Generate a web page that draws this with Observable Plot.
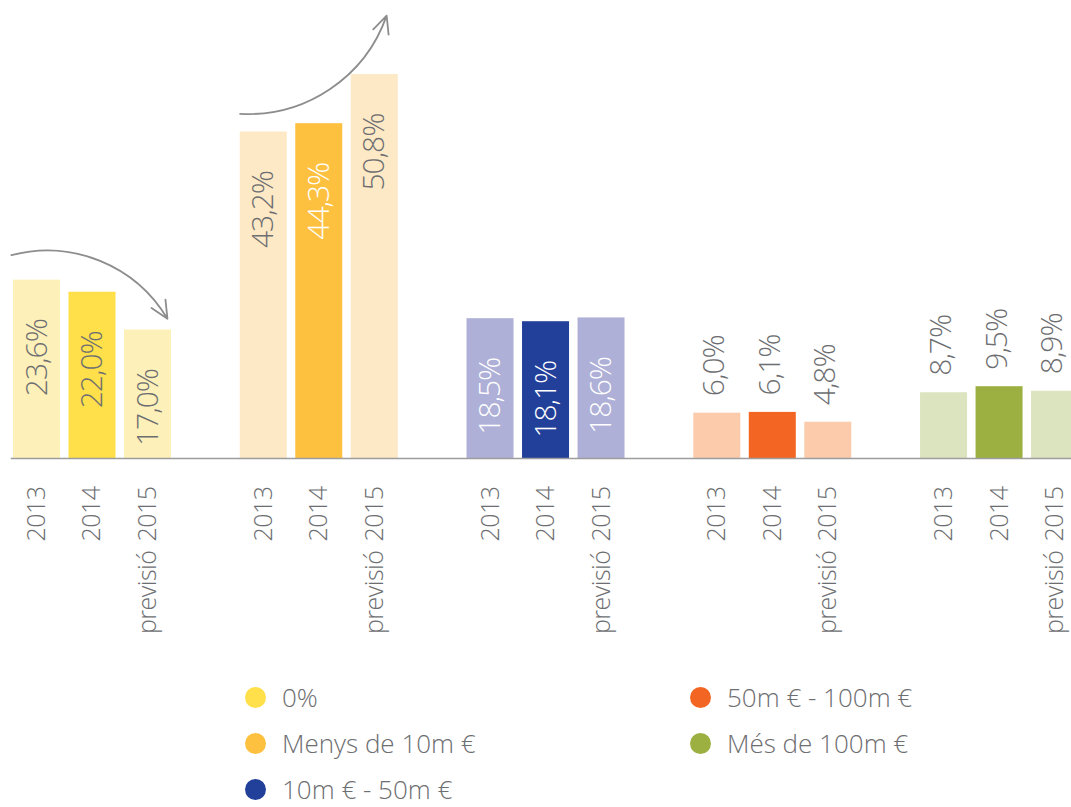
<!DOCTYPE html>
<html>
<head>
<meta charset="utf-8">
<script src="https://cdn.jsdelivr.net/npm/d3@7"></script>
<script src="https://cdn.jsdelivr.net/npm/@observablehq/plot@0.6"></script>
<style>
  html, body { margin: 0; padding: 0; background: #fff; width: 1071px; height: 807px; overflow: hidden; }
  body { font-family: "Open Sans", sans-serif; font-weight: 300; color: #6d6e71; }
  #chart { width: 1071px; overflow: hidden; }
  #chart svg { display: block; max-width: none !important; }
  #legend {
    display: grid;
    grid-template-columns: 445px auto;
    grid-template-rows: repeat(3, 46px);
    grid-auto-flow: column;
    padding-left: 245px;
    padding-top: 4px;
  }
  .item { display: flex; align-items: center; font-size: 26px; line-height: 26px; white-space: nowrap; }
  .dot { width: 21px; height: 21px; border-radius: 50%; margin-right: 16px; flex: none; }
</style>
</head>
<body>
<div id="chart"></div>
<div id="legend"></div>
<script>
// ---- data ----
const groups = ["0%", "Menys de 10m €", "10m € - 50m €", "50m € - 100m €", "Més de 100m €"];
const years = ["2013", "2014", "previsió 2015"];
const v2013 = [23.6, 43.2, 18.5, 6.0, 8.7];
const v2014 = [22.0, 44.3, 18.1, 6.1, 9.5];
const v2015 = [17.0, 50.8, 18.6, 4.8, 8.9];

// trend arrows (data units: bar slot, percentage)
const arrowX1 = [0.04, 4.16];
const arrowY1 = [26.9, 45.6];
const arrowX2 = [2.85, 6.8];
const arrowY2 = [18.5, 58.6];

// ---- layout / styles ----
const groupStep = 4.086;          // distance between groups, in bar slots
const darkColors = ["#ffdf4a", "#fec13f", "#22409a", "#f26522", "#9bb040"];
const lightColors = ["#fef0b9", "#fde9c5", "#aeb0d7", "#fbcbab", "#dce3bf"];
const textGray = "#6d6e71";

// ---- table ----
const series = [v2013, v2014, v2015];
const rows = [];
groups.forEach((g, gi) => years.forEach((yr, yi) => {
  rows.push({
    group: g,
    year: yr,
    value: series[yi][gi],
    slot: gi * groupStep + yi,
    fill: yi === 1 ? darkColors[gi] : lightColors[gi]
  });
}));
const slotEnd = d3.max(rows, d => d.slot) + 1;
const fmt = v => v.toFixed(1).replace(".", ",") + "%";
const labelFill = d => d3.lab(d.fill).l < 85 ? "#ffffff" : textGray;
const inside = rows.filter(d => d.value > 10);
const outside = rows.filter(d => d.value <= 10);
const arrows = arrowX1.map((x, i) => ({x1: x, y1: arrowY1[i], x2: arrowX2[i], y2: arrowY2[i]}));

const chart = Plot.plot({
  width: 1091,
  height: 670,
  marginLeft: 8.75,
  marginRight: 8.7,
  marginTop: 0,
  marginBottom: 212,
  x: {domain: [0, slotEnd], axis: null},
  y: {domain: [0, 60.6], axis: null},
  color: {type: "identity"},
  style: {fontFamily: "'Open Sans', sans-serif", background: "#fff", maxWidth: "none"},
  marks: [
    Plot.rect(rows, {x1: "slot", x2: d => d.slot + 1, y1: 0, y2: "value", fill: "fill", insetLeft: 4.25, insetRight: 4.25}),
    Plot.ruleY([0], {stroke: "#9d9d9d", strokeWidth: 1.6, insetLeft: 2}),
    Plot.text(inside, {x: d => d.slot + 0.5, y: "value", text: d => fmt(d.value), rotate: -90, textAnchor: "end", dy: 39, fontSize: 30, fontWeight: 300, fill: labelFill}),
    Plot.text(outside, {x: d => d.slot + 0.5, y: "value", text: d => fmt(d.value), rotate: -90, textAnchor: "start", dy: -17, dx: -2.5, fontSize: 30, fontWeight: 300, fill: textGray}),
    Plot.text(rows, {x: d => d.slot + 0.5, y: 0, text: "year", rotate: -90, textAnchor: "end", dy: 28, fontSize: 25, fontWeight: 300, fill: textGray}),
    Plot.arrow(arrows.slice(0, 1), {x1: "x1", y1: "y1", x2: "x2", y2: "y2", bend: 37, stroke: "#8d8d8d", strokeWidth: 1.8, headLength: 16, headAngle: 50}),
    Plot.arrow(arrows.slice(1, 2), {x1: "x1", y1: "y1", x2: "x2", y2: "y2", bend: -37, stroke: "#8d8d8d", strokeWidth: 1.8, headLength: 16, headAngle: 50})
  ]
});
chart.querySelectorAll("text").forEach(t => {
  if (t.textContent.includes("%")) {
    t.style.letterSpacing = "-1px";
  } else {
    t.style.letterSpacing = "-0.5px";
    t.style.wordSpacing = "3px";
  }
});
chart.style.maxWidth = "none";
document.getElementById("chart").appendChild(chart);

const legend = d3.select("#legend");
groups.forEach((g, i) => {
  const item = legend.append("div").attr("class", "item");
  item.append("span").attr("class", "dot").style("background", darkColors[i]);
  item.append("span").text(g);
});
</script>
</body>
</html>
